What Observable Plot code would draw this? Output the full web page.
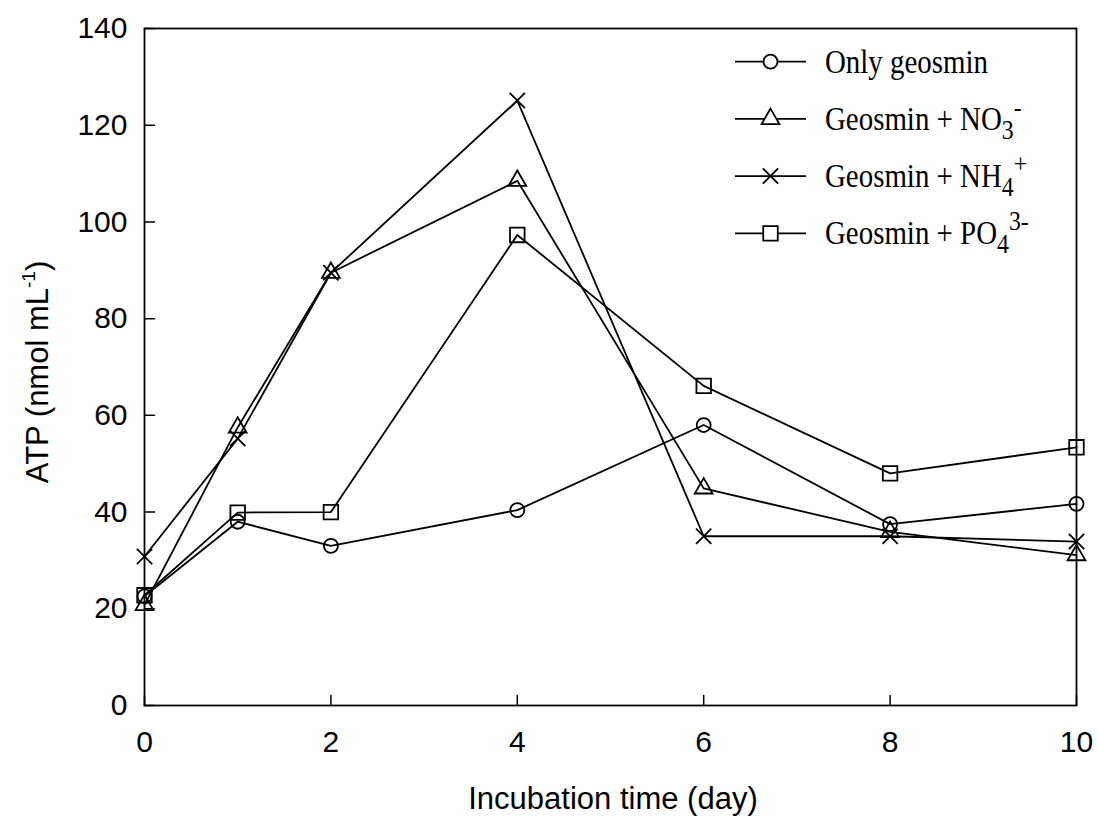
<!DOCTYPE html>
<html><head><meta charset="utf-8">
<script src="https://cdn.jsdelivr.net/npm/d3@7"></script>
<script src="https://cdn.jsdelivr.net/npm/@observablehq/plot@0.6"></script>
<style>body{margin:0;background:#fff}</style>
</head><body><div id="chart"></div>
<script>
// ---- data ----
const days = [0, 1, 2, 4, 6, 8, 10];
const seriesNames = ["Only geosmin", "Geosmin + NO3-", "Geosmin + NH4+", "Geosmin + PO43-"];
const onlyGeosmin = [22.6, 38.0, 33.0, 40.4, 58.0, 37.5, 41.7];
const geosminNO3  = [20.8, 57.5, 89.5, 108.5, 44.9, 35.9, 31.1];
const geosminNH4  = [30.8, 55.2, 89.5, 125.1, 35.0, 35.0, 33.9];
const geosminPO4  = [22.8, 39.9, 40.0, 97.3, 66.1, 48.0, 53.4];
const xTicks = [0, 2, 4, 6, 8, 10];
const yTicks = [0, 20, 40, 60, 80, 100, 120, 140];
const xTitle = "Incubation time (day)";
const yTitleMain = "ATP (nmol mL";
const yTitleSup = "-1";
const legendParts = [
  [["Only geosmin", "n"]],
  [["Geosmin + NO", "n"], ["3", "sub"], ["-", "sup"]],
  [["Geosmin + NH", "n"], ["4", "sub"], ["+", "sup"]],
  [["Geosmin + PO", "n"], ["4", "sub"], ["3-", "sup"]]
];

// ---- styles ----
const symbols = ["circle", "triangle", "times", "square"];
const symbolR = [7, 6.6, 7, 8.2];
const d3Symbols = {circle: d3.symbolCircle, triangle: d3.symbolTriangle, times: d3.symbolTimes, square: d3.symbolSquare};

const valuesList = [onlyGeosmin, geosminNO3, geosminNH4, geosminPO4];
const rows = seriesNames.flatMap((s, i) => days.map((d, j) => ({series: s, day: d, atp: valuesList[i][j]})));

const W = 1098, H = 819;
const plot = Plot.plot({
  width: W, height: H,
  marginLeft: 144, marginRight: 22, marginTop: 28, marginBottom: 114,
  style: {background: "white", color: "black", fontFamily: "'Liberation Sans', Arial, sans-serif", fontSize: "30px"},
  x: {domain: [0, 10]},
  y: {domain: [0, 140]},
  marks: [
    Plot.frame({stroke: "black", strokeWidth: 1.8}),
    Plot.vector(xTicks, {x: d => d, y: () => 0, length: 10, rotate: 0, anchor: "start", shape: "spike", r: 0, stroke: "black", strokeWidth: 1.5, fill: "none"}),
    Plot.vector(yTicks, {x: () => 0, y: d => d, length: 10, rotate: 90, anchor: "start", shape: "spike", r: 0, stroke: "black", strokeWidth: 1.5, fill: "none"}),
    Plot.axisX({ticks: xTicks, tickSize: 0, tickPadding: 25, label: null}),
    Plot.axisY({ticks: yTicks, tickSize: 0, tickPadding: 17, label: null}),
    Plot.line(rows, {x: "day", y: "atp", z: "series", stroke: "black", strokeWidth: 1.8}),
    ...seriesNames.map((s, i) => Plot.dot(rows.filter(r => r.series === s), {
      x: "day", y: "atp", symbol: () => symbols[i], r: symbolR[i], stroke: "black", strokeWidth: 1.8, fill: "none"
    }))
  ]
});
document.getElementById("chart").appendChild(plot);

const svg = d3.select(plot);
// x title
svg.append("text")
  .attr("x", 613).attr("y", 809)
  .attr("text-anchor", "middle")
  .attr("font-family", "'Liberation Sans', Arial, sans-serif")
  .attr("font-size", 31).attr("fill", "black")
  .text(xTitle);
// y title
const yt = svg.append("text")
  .attr("transform", "translate(48,372) rotate(-90)")
  .attr("text-anchor", "middle")
  .attr("font-family", "'Liberation Sans', Arial, sans-serif")
  .attr("font-size", 31).attr("fill", "black");
yt.append("tspan").text(yTitleMain);
yt.append("tspan").attr("font-size", 19).attr("dy", -13).text(yTitleSup);
yt.append("tspan").attr("dy", 13).text(")");

// legend
const rowY = [61.7, 118.9, 176.1, 233.3];
const lg = svg.append("g");
legendParts.forEach((parts, i) => {
  const y = rowY[i];
  lg.append("line").attr("x1", 735).attr("x2", 806).attr("y1", y).attr("y2", y)
    .attr("stroke", "black").attr("stroke-width", 1.8);
  const r = symbolR[i];
  lg.append("path").attr("transform", `translate(770.5,${y})`)
    .attr("d", d3.symbol(d3Symbols[symbols[i]], Math.PI * r * r)())
    .attr("fill", "white").attr("stroke", "black").attr("stroke-width", 1.8);
  const t = lg.append("text")
    .attr("transform", `translate(825,${y + 11}) scale(0.85,1)`)
    .attr("text-anchor", "start")
    .attr("font-family", "'Liberation Serif', 'Times New Roman', serif")
    .attr("font-size", 34).attr("fill", "black");
  let shift = 0;
  parts.forEach(([txt, kind]) => {
    const target = kind === "sub" ? 9 : kind === "sup" ? -14 : 0;
    const ts = t.append("tspan").attr("dy", target - shift).text(txt);
    if (kind !== "n") ts.attr("font-size", 28);
    shift = target;
  });
});
</script>
</body></html>
